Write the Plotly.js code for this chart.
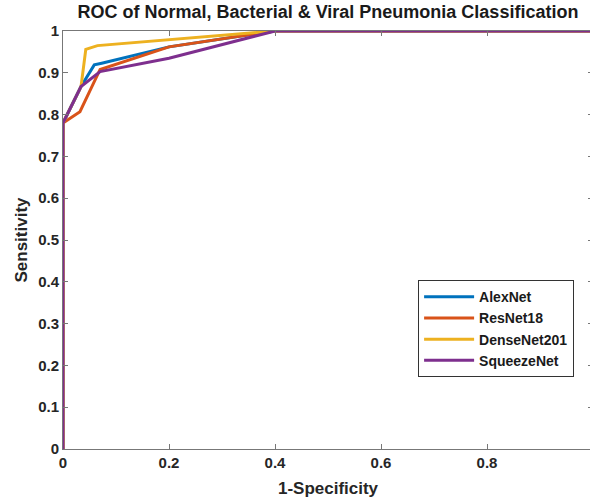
<!DOCTYPE html>
<html>
<head>
<meta charset="utf-8">
<script src="https://cdn.plot.ly/plotly-3.0.1.min.js"></script>
<style>html,body{margin:0;padding:0;overflow:hidden;background:#fff;width:590px;height:501px}</style>
</head>
<body>
<div id="chart"></div>
<script>
var seriesNames = ["AlexNet", "ResNet18", "DenseNet201", "SqueezeNet"];
var seriesColors = ["#0072BD", "#D95319", "#EDB120", "#7E2F8E"];
var alexX = [0, 0, 0.034, 0.059, 0.073, 0.2, 0.4, 1];
var alexY = [0, 0.78, 0.867, 0.919, 0.923, 0.962, 1, 1];
var resX = [0, 0, 0.032, 0.07, 0.2, 0.4, 1];
var resY = [0, 0.78, 0.807, 0.908, 0.962, 1, 1];
var denseX = [0, 0, 0.034, 0.043, 0.065, 0.4, 1];
var denseY = [0, 0.78, 0.867, 0.956, 0.965, 1, 1];
var squeezeX = [0, 0, 0.034, 0.07, 0.2, 0.4, 1];
var squeezeY = [0, 0.78, 0.867, 0.903, 0.935, 1, 1];
var xTicks = [0, 0.2, 0.4, 0.6, 0.8, 1];
var xTickText = ["0", "0.2", "0.4", "0.6", "0.8", "1"];
var yTicks = [0, 0.1, 0.2, 0.3, 0.4, 0.5, 0.6, 0.7, 0.8, 0.9, 1];
var yTickText = ["0", "0.1", "0.2", "0.3", "0.4", "0.5", "0.6", "0.7", "0.8", "0.9", "1"];
var xs = [alexX, resX, denseX, squeezeX];
var ys = [alexY, resY, denseY, squeezeY];

var traces = seriesNames.map(function(n, i) {
  return {x: xs[i], y: ys[i], name: n, type: "scatter", mode: "lines",
    line: {color: seriesColors[i], width: 3}};
});

var fam = "Liberation Sans, Arial, sans-serif";
var tickFont = {family: fam, size: 15, color: "#262626", weight: "bold"};
var layout = {
  width: 593, height: 501,
  margin: {l: 63, r: 0, t: 31, b: 52},
  paper_bgcolor: "#fff", plot_bgcolor: "#fff",
  font: {family: fam, color: "#262626"},
  title: {text: "<b>ROC of Normal, Bacterial & Viral Pneumonia Classification</b>",
    font: {size: 18, color: "#1a1a1a"}, x: 0.5, xref: "paper", y: 0.999, yref: "container", yanchor: "top", pad: {t: 5}},
  xaxis: {range: [0, 1], tickvals: xTicks, ticktext: xTickText,
    ticks: "inside", ticklen: 5, tickcolor: "#777", showline: true, linecolor: "#777", linewidth: 1, mirror: "ticks",
    showgrid: false, zeroline: false, tickfont: tickFont,
    title: {text: "<b>1-Specificity</b>", font: {size: 17, color: "#262626"}, standoff: 12}},
  yaxis: {range: [0, 1], tickvals: yTicks, ticktext: yTickText,
    ticks: "inside", ticklen: 5, tickcolor: "#777", showline: true, linecolor: "#777", linewidth: 1, mirror: "ticks",
    showgrid: false, zeroline: false, tickfont: tickFont,
    title: {text: "<b>Sensitivity</b>", font: {size: 17, color: "#262626"}, standoff: 6}},
  showlegend: true,
  legend: {x: 0.67, y: 0.404, xanchor: "left", yanchor: "top", bgcolor: "#fff",
    bordercolor: "#333", borderwidth: 1, tracegroupgap: 0,
    font: {size: 14, color: "#1a1a1a", weight: "bold"}, itemwidth: 50}
};
Plotly.newPlot("chart", traces, layout, {staticPlot: true, displayModeBar: false});
</script>
</body>
</html>
